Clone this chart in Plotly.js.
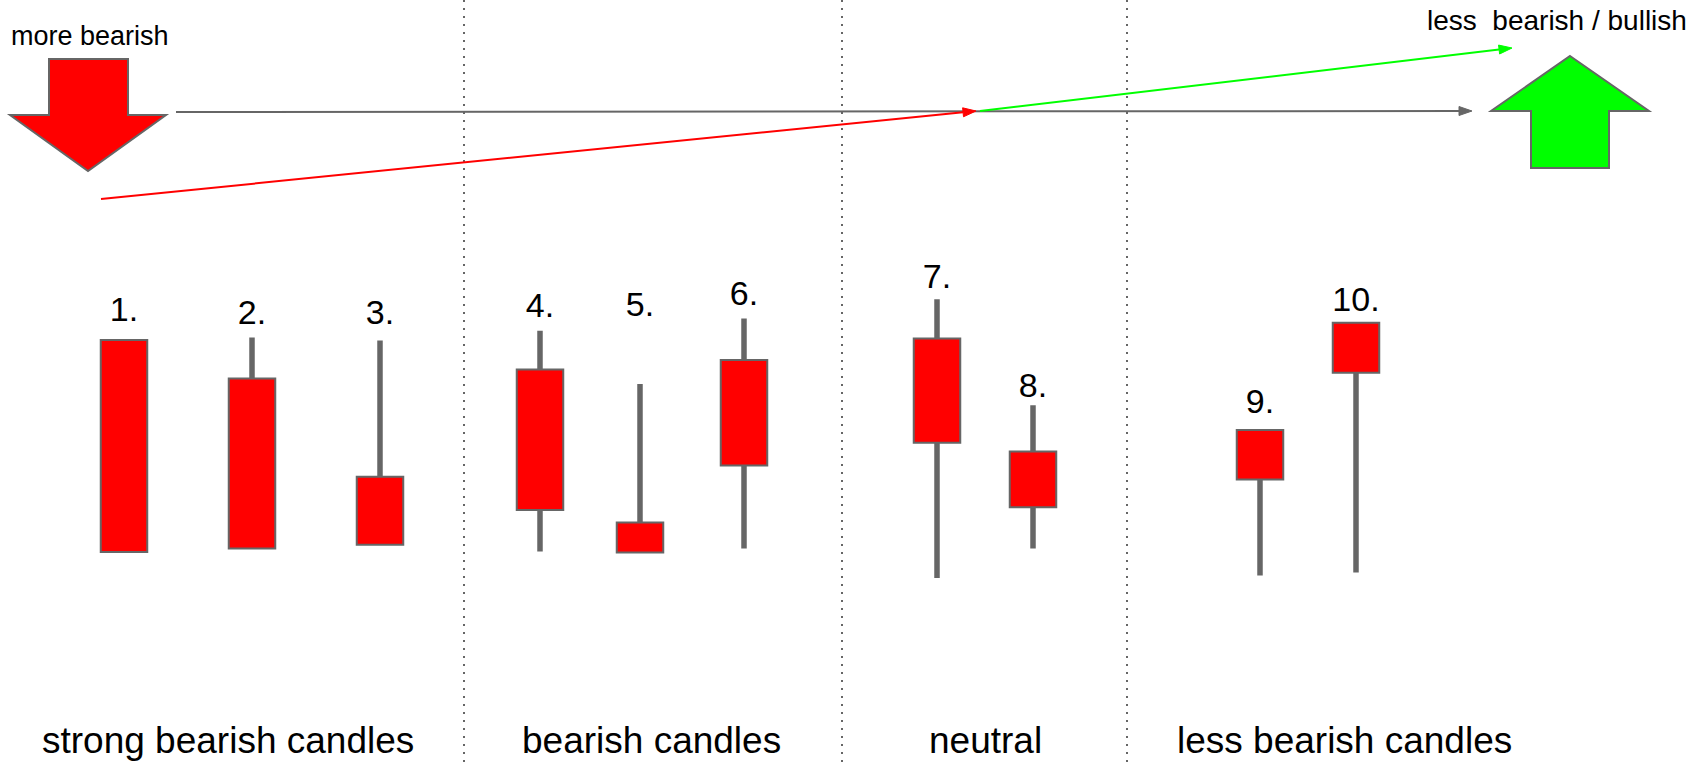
<!DOCTYPE html>
<html>
<head>
<meta charset="utf-8">
<script src="https://cdn.plot.ly/plotly-3.0.1.min.js"></script>
<style>html,body{margin:0;padding:0;background:#fff;overflow:hidden}#chart{width:1700px;height:762px}</style>
</head>
<body>
<div id="chart"></div>
<script>
// ---- data ----
const candleLabels = ["1.", "2.", "3.", "4.", "5.", "6.", "7.", "8.", "9.", "10."];
const candleX = [124, 252, 380, 540, 640, 744, 937, 1033, 1260, 1356];
const openP  = [105.5, 95.9, 71.3, 98.1, 59.9, 100.5, 105.9, 77.6, 83.0, 109.8];
const closeP = [52.5, 53.4, 54.3, 63.0, 52.4, 74.1, 79.8, 63.7, 70.6, 97.3];
const highP  = [105.5, 106.1, 105.4, 107.8, 94.5, 110.9, 115.7, 89.2, 83.0, 109.8];
const lowP   = [52.5, 53.4, 54.3, 52.6, 52.4, 53.4, 46.0, 53.4, 46.6, 47.4];
const labelP = [112.5, 111.7, 111.7, 113.3, 113.6, 116.5, 120.7, 93.5, 89.4, 114.9];
const groupNames = ["strong bearish candles", "bearish candles", "neutral", "less bearish candles"];
const groupCenters = [228, 651, 985, 1344];
const dividers = [464, 842, 1127];
const topLeftText = "more bearish";
const topRightText = "less\u00a0 bearish / bullish";

// ---- helpers (page pixels -> axis units) ----
const W = 1700, H = 762, K = 4;
const Y = py => (H - py) / K;
const FONT = "Liberation Sans, Arial, sans-serif";
const GREY = "#666666";

function poly(pts) {
  return "M" + pts.map(p => p[0] + "," + Y(p[1])).join(" L") + " Z";
}
function arrowLine(x1, y1, x2, y2, color) {
  const dx = x2 - x1, dy = y2 - y1, len = Math.hypot(dx, dy);
  const ux = dx / len, uy = dy / len, L = 13, Wd = 4.5;
  const bx = x2 - L * ux, by = y2 - L * uy;
  const nx = -uy, ny = ux;
  return [
    {type: "line", xref: "x", yref: "y", x0: x1, y0: Y(y1), x1: bx, y1: Y(by),
     line: {color: color, width: 2}},
    {type: "path", xref: "x", yref: "y",
     path: poly([[x2, y2], [bx + Wd * nx, by + Wd * ny], [bx - Wd * nx, by - Wd * ny]]),
     fillcolor: color, line: {color: color, width: 1}}
  ];
}

// ---- traces ----
const wicks = {
  type: "bar", x: candleX, base: lowP,
  y: highP.map((h, i) => h - lowP[i]), width: 5.5,
  marker: {color: GREY, line: {width: 0}}, hoverinfo: "skip"
};
const bodies = {
  type: "bar", x: candleX, base: closeP,
  y: openP.map((o, i) => o - closeP[i]), width: 46.5,
  marker: {color: "#ff0000", line: {color: GREY, width: 2}}, hoverinfo: "skip"
};
const labels = {
  type: "scatter", mode: "text", x: candleX, y: labelP, text: candleLabels,
  textposition: "middle center", cliponaxis: false,
  textfont: {family: FONT, size: 34, color: "#000"}, hoverinfo: "skip"
};

// ---- decorations ----
const shapes = [];
dividers.forEach(d => shapes.push({
  type: "line", xref: "x", yref: "paper", x0: d, x1: d, y0: 0, y1: 1, layer: "below",
  line: {color: GREY, width: 2, dash: "2px,6px"}
}));
shapes.push({type: "path", xref: "x", yref: "y",
  path: poly([[49, 59], [128, 59], [128, 115], [166, 115], [88, 171], [10, 115], [49, 115]]),
  fillcolor: "#ff0000", line: {color: GREY, width: 2}});
shapes.push({type: "path", xref: "x", yref: "y",
  path: poly([[1570, 56], [1649, 111], [1609, 111], [1609, 168], [1531, 168], [1531, 111], [1491, 111]]),
  fillcolor: "#00ff00", line: {color: GREY, width: 2}});
shapes.push(...arrowLine(176, 112, 1472, 111, GREY));
shapes.push(...arrowLine(101, 199, 976, 111, "#ff0000"));
shapes.push(...arrowLine(980, 111, 1512, 48, "#00ff00"));

const annotations = [
  {xref: "x", yref: "y", x: 9, y: Y(36), xanchor: "left", yanchor: "middle", showarrow: false,
   text: topLeftText, font: {family: FONT, size: 27, color: "#000"}},
  {xref: "x", yref: "y", x: 1425, y: Y(20.5), xanchor: "left", yanchor: "middle", showarrow: false,
   text: topRightText, font: {family: FONT, size: 28, color: "#000"}}
];
groupNames.forEach((g, i) => annotations.push({
  xref: "x", yref: "y", x: groupCenters[i], y: Y(740), xanchor: "center", yanchor: "middle",
  showarrow: false, text: g, font: {family: FONT, size: 37, color: "#000"}
}));

const layout = {
  width: W, height: H, margin: {l: 0, r: 0, t: 0, b: 0},
  paper_bgcolor: "#fff", plot_bgcolor: "#fff", showlegend: false, barmode: "overlay",
  xaxis: {range: [0, W], visible: false, fixedrange: true},
  yaxis: {range: [0, H / K], visible: false, fixedrange: true},
  shapes: shapes, annotations: annotations, hovermode: false,
  font: {family: FONT}
};
Plotly.newPlot("chart", [wicks, bodies, labels], layout, {displayModeBar: false, staticPlot: true});
</script>
</body>
</html>
